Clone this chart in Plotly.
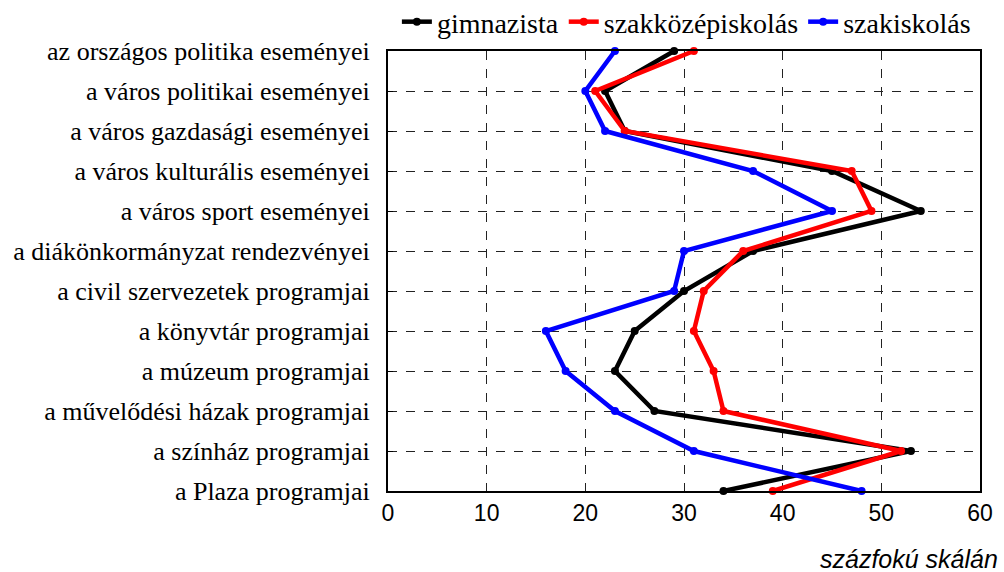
import plotly.graph_objects as go

categories = [
    "az országos politika eseményei",
    "a város politikai eseményei",
    "a város gazdasági eseményei",
    "a város kulturális eseményei",
    "a város sport eseményei",
    "a diákönkormányzat rendezvényei",
    "a civil szervezetek programjai",
    "a könyvtár programjai",
    "a múzeum programjai",
    "a művelődési házak programjai",
    "a színház programjai",
    "a Plaza programjai",
]

gimnazista = [29, 22, 24, 45, 54, 37, 30, 25, 23, 27, 53, 34]
szakkozepiskolas = [31, 21, 24, 47, 49, 36, 32, 31, 33, 34, 52, 39]
szakiskolas = [23, 20, 22, 37, 45, 30, 29, 16, 18, 23, 31, 48]

x_ticks = [0, 10, 20, 30, 40, 50, 60]

fig = go.Figure()

for name, values, color in [
    ("gimnazista", gimnazista, "#000000"),
    ("szakközépiskolás", szakkozepiskolas, "#ff0000"),
    ("szakiskolás", szakiskolas, "#0000ff"),
]:
    fig.add_trace(
        go.Scatter(
            x=values,
            y=categories,
            mode="lines+markers",
            name=name,
            line={"color": color, "width": 4.5},
            marker={"color": color, "size": 8},
            cliponaxis=False,
        )
    )

fig.update_layout(
    width=1004,
    height=572,
    margin={"l": 388, "r": 24, "t": 51, "b": 81, "autoexpand": False},
    paper_bgcolor="white",
    plot_bgcolor="white",
    showlegend=True,
    legend={
        "orientation": "h",
        "x": 0.015,
        "xanchor": "left",
        "y": 1.066,
        "yanchor": "middle",
        "font": {"family": "Liberation Serif", "size": 28, "color": "black"},
        "itemwidth": 30,
        "tracegroupgap": 0,
        "bgcolor": "rgba(0,0,0,0)",
    },
    xaxis={
        "range": [0, 60],
        "tickvals": x_ticks,
        "showgrid": True,
        "gridcolor": "#222222",
        "griddash": "dash",
        "gridwidth": 1,
        "zeroline": False,
        "showline": True,
        "linecolor": "black",
        "linewidth": 2,
        "mirror": True,
        "ticks": "",
        "tickfont": {"family": "Liberation Sans", "size": 23, "color": "black"},
        "fixedrange": True,
    },
    yaxis={
        "categoryorder": "array",
        "categoryarray": categories,
        "autorange": False,
        "range": [11, 0],
        "showgrid": True,
        "gridcolor": "#222222",
        "griddash": "dash",
        "gridwidth": 1,
        "zeroline": False,
        "showline": True,
        "linecolor": "black",
        "linewidth": 2,
        "mirror": True,
        "ticks": "inside",
        "ticklen": 5,
        "tickcolor": "black",
        "tickfont": {"family": "Liberation Serif", "size": 26, "color": "black"},
        "ticklabelstandoff": 11,
        "fixedrange": True,
    },
)

fig.add_annotation(
    text="<i>százfokú skálán</i>",
    x=1.0,
    y=-0.155,
    xref="paper",
    yref="paper",
    xanchor="right",
    yanchor="middle",
    xshift=20,
    showarrow=False,
    font={"family": "Liberation Sans", "size": 25, "color": "black"},
)

fig.write_html(
    "out.html",
    config={"displayModeBar": False},
    post_script="document.body.style.margin='0';",
)
